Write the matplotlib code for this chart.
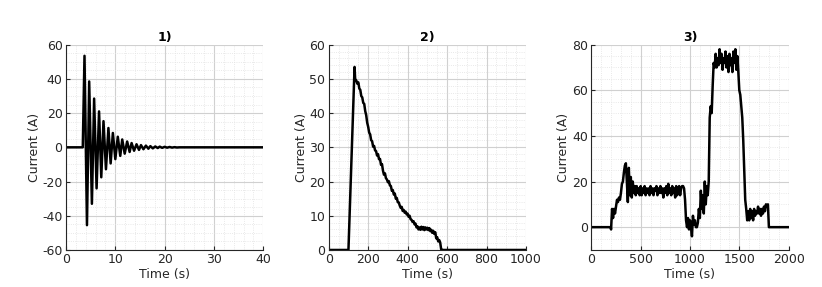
import numpy as np
import matplotlib.pyplot as plt
from matplotlib.ticker import AutoMinorLocator

# panel 1: damped oscillation, extrema
t1 = [0, 3.4, 3.75, 4.25, 4.7, 5.25, 5.7, 6.2, 6.7, 7.15, 7.6, 8.1, 8.6, 9.05, 9.5,
      10.0, 10.5, 11.0, 11.4, 11.9, 12.4, 12.9, 13.3, 13.8, 14.3, 14.8, 15.2, 15.7,
      16.2, 16.7, 17.1, 17.6, 18.1, 18.6, 19.0, 19.5, 20.0, 20.5, 21.0, 21.5, 22.0,
      22.5, 23.0, 40]
v1 = [0, 0, 53.5, -45.5, 38.5, -33, 28.5, -24, 21, -17.5, 15.3, -12.8, 11.3, -9.4, 8.4,
      -6.9, 6.2, -5.0, 4.6, -3.7, 3.4, -2.7, 2.5, -2.0, 1.8, -1.5, 1.3, -1.1,
      1.0, -0.8, 0.7, -0.6, 0.5, -0.4, 0.4, -0.3, 0.3, -0.2, 0.2, -0.15, 0.1,
      -0.1, 0, 0]

# panel 2: pulse with decay (samples every 5 s after the peak)
t2 = [0, 100, 131, 134] + list(range(140, 575, 5)) + [580, 1000]
v2 = [0, 0, 53.5, 50.0,
      49.5, 48.6, 49.0, 47.2, 46.8, 45.0, 44.6, 43.0, 42.7, 40.6,
      39.4, 37.2, 36.0, 34.3, 33.8, 32.1, 31.8, 30.2, 30.4, 29.1,
      28.9, 27.6, 28.0, 26.5, 26.6, 24.9, 25.1, 23.2, 22.0, 22.4,
      21.0, 20.6, 19.8, 20.1, 18.9, 18.7, 17.3, 17.5, 16.2, 16.5,
      15.0, 15.2, 14.0, 13.9, 13.0, 12.3, 12.6, 11.4, 11.7, 10.9,
      11.2, 10.4, 10.6, 9.7, 10.0, 9.0, 8.8, 8.2, 8.4, 7.5,
      7.7, 6.6, 6.9, 6.0, 6.6, 5.9, 6.8, 6.0, 6.7, 5.8,
      6.6, 6.0, 6.5, 5.8, 6.4, 5.5, 5.9, 5.0, 5.6, 4.7,
      5.2, 3.4, 3.7, 2.5, 2.9, 2.2, 0.2,
      0, 0]

# panel 3: drive cycle current (samples every 10 s)
t3 = [0, 195] + list(range(200, 1810, 10)) + [2000]
v3 = [0, 0,
      -1, 8, 4, 8, 6, 9, 12, 11, 13, 12,
      15, 19, 20, 24, 27, 28, 20, 11, 26, 14,
      22, 13, 20, 15, 18, 14, 18, 15, 17, 14,
      18, 14, 17, 15, 18, 14, 17, 15, 17, 14,
      18, 15, 17, 14, 17, 16, 18, 14, 17, 15,
      18, 15, 17, 13, 17, 15, 18, 14, 19, 15,
      17, 14, 18, 15, 17, 13, 18, 14, 17, 18,
      14, 17, 18, 18, 17, 12, 3, 0, 4, -1,
      3, 0, -4, 5, 1, 3, 0, 0, 2, 8,
      4, 16, 8, 14, 6, 20, 10, 18, 14, 20,
      48, 53, 50, 62, 72, 70, 76, 70, 74, 71,
      78, 72, 76, 69, 74, 72, 77, 70, 75, 68,
      76, 71, 74, 68, 77, 72, 78, 69, 75, 68,
      60, 58, 53, 48, 38, 25, 12, 8, 3, 7,
      3, 8, 4, 7, 3, 8, 5, 7, 6, 9,
      6, 8, 5, 8, 6, 9, 7, 10, 9, 10,
      0, 0]

panels = [
    ("1)", t1, v1, (0, 40), [0, 10, 20, 30, 40], (-60, 60), [-60, -40, -20, 0, 20, 40, 60]),
    ("2)", t2, v2, (0, 1000), [0, 200, 400, 600, 800, 1000], (0, 60), [0, 10, 20, 30, 40, 50, 60]),
    ("3)", t3, v3, (0, 2000), [0, 500, 1000, 1500, 2000], (-10, 80), [0, 20, 40, 60, 80]),
]

plt.rcParams['font.family'] = 'DejaVu Sans'
plt.rcParams['axes.unicode_minus'] = False
fig = plt.figure(figsize=(8.22, 2.87), dpi=100)
lefts = [0.0803, 0.3999, 0.7194]

for left, (title, t, v, xl, xt, yl, yt) in zip(lefts, panels):
    ax = fig.add_axes([left, 0.129, 0.2400, 0.7153])
    ax.plot(t, v, color='black', lw=1.8)
    ax.set_xlim(xl)
    ax.set_ylim(yl)
    ax.set_xticks(xt)
    ax.set_yticks(yt)
    ax.xaxis.set_minor_locator(AutoMinorLocator())
    ax.yaxis.set_minor_locator(AutoMinorLocator())
    ax.grid(which='major', color='#d0d0d0', lw=0.8)
    ax.grid(which='minor', color='#e2e2e2', lw=0.6, ls=':')
    ax.set_axisbelow(True)
    for s in ['top', 'right']:
        ax.spines[s].set_visible(False)
    for s in ['left', 'bottom']:
        ax.spines[s].set_color('#262626')
        ax.spines[s].set_linewidth(0.8)
    ax.tick_params(which='both', direction='in', colors='#262626', labelsize=9)
    ax.tick_params(which='major', length=3, pad=2.5)
    ax.tick_params(which='minor', length=0)
    ax.set_xlabel('Time (s)', fontsize=9, color='#262626', labelpad=1)
    ax.set_ylabel('Current (A)', fontsize=9, color='#262626', labelpad=1)
    ax.set_title(title, fontsize=9, fontweight='bold', pad=3)

fig.savefig('out.png', dpi=100)
